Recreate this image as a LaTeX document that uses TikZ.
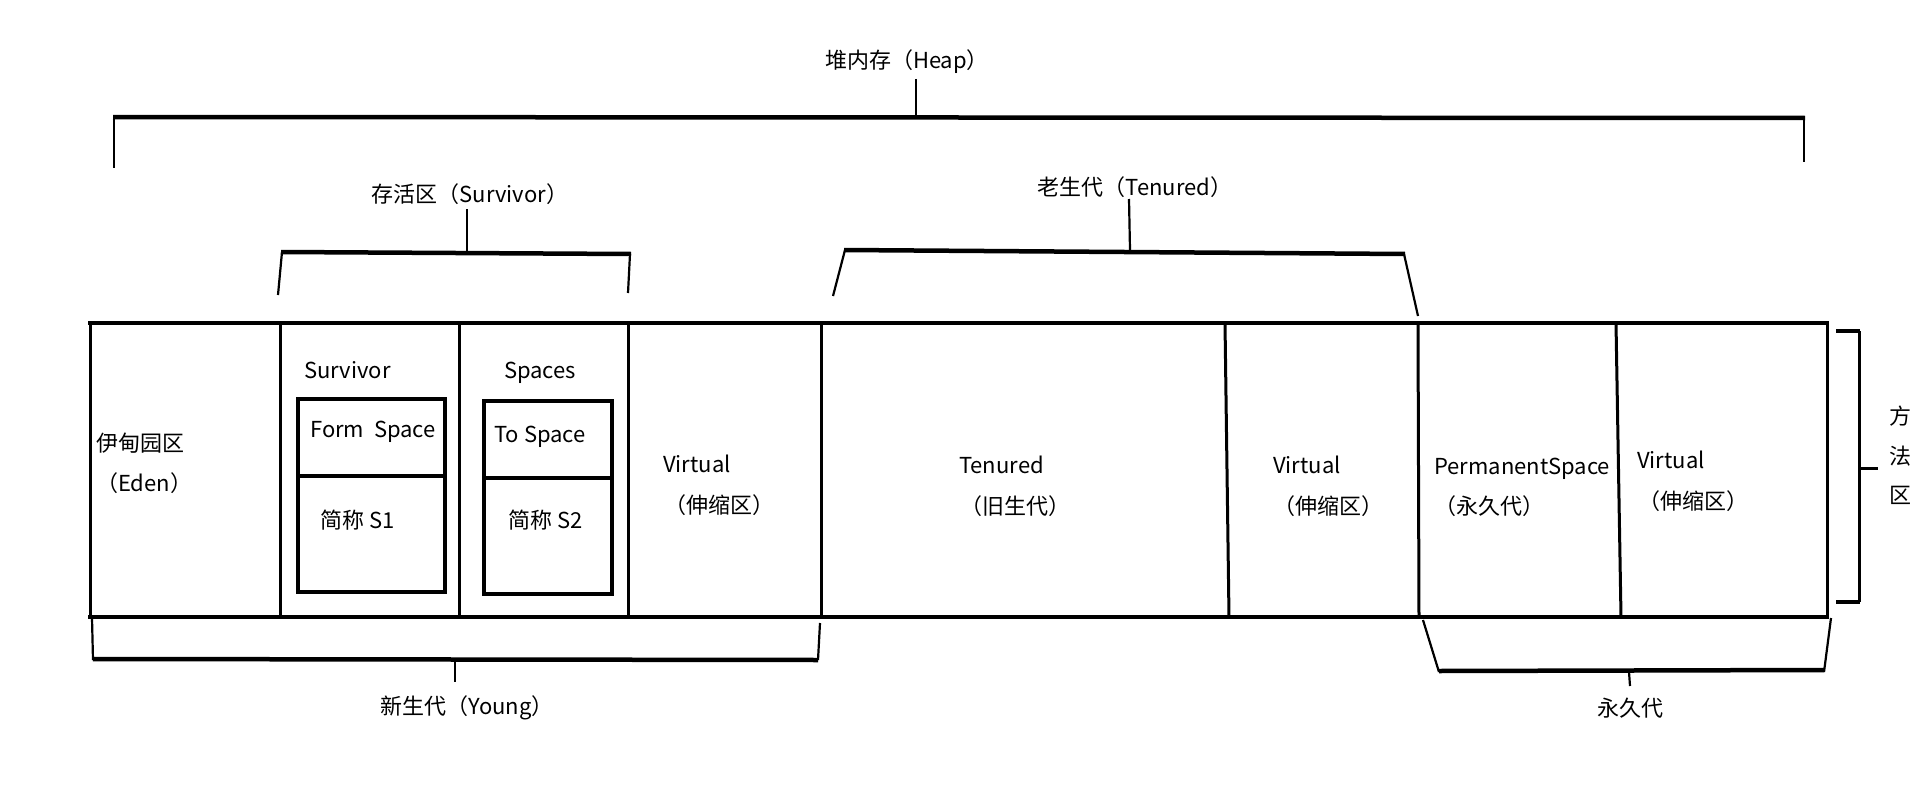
\documentclass[tikz,border=0pt]{standalone}
\usepackage{fontspec}
\setmainfont{Noto Sans CJK SC}
\begin{document}
\begin{tikzpicture}[x=1pt,y=-1pt,
  lbl/.style={inner sep=0pt,anchor=west,text height=0.88em,text depth=0.12em,font=\fontsize{22}{26}\selectfont},
  lblc/.style={lbl,anchor=center},
  thick bar/.style={line width=4.5pt},
  thin leg/.style={line width=2.2pt},
  wall/.style={line width=3pt},
  edge/.style={line width=4.5pt}]
\useasboundingbox[fill=white] (0,0) rectangle (1920,800);
% outer box
\draw[edge] (88,323) -- (1829,323);
\draw[edge] (88,617) -- (1829,617);
\draw[wall] (90,323) -- (90,617);
\draw[wall] (280,323) -- (280,617);
\draw[wall] (459,323) -- (459,617);
\draw[wall] (628,323) -- (628,617);
\draw[wall] (821,323) -- (821,617);
\draw[wall] (1225,323) -- (1229,617);
\draw[wall] (1418,323) -- (1419,617);
\draw[wall] (1616,323) -- (1621,617);
\draw[wall] (1827,323) -- (1827,617);
% inner boxes
\draw[edge] (298,399) rectangle (445,592);
\draw[edge] (298,476) -- (445,476);
\draw[edge] (484,401) rectangle (612,594);
\draw[edge] (484,478) -- (612,478);
% labels in boxes
\node[lbl] (eden1) at (96,448) {伊甸园区};
\node[lbl] (eden2) at (96,488) {（Eden）};
\node[lbl] (surv) at (304,375) {Survivor};
\node[lbl] (spaces) at (504,375) {Spaces};
\node[lbl] (from) at (310,434) {Form\ \ Space};
\node[lbl] (to) at (494,439) {To Space};
\node[lbl] (s1) at (320,525) {简称 S1};
\node[lbl] (s2) at (508,525) {简称 S2};
\node[lbl] (v1) at (663,469) {Virtual};
\node[lbl] (v1b) at (664,510) {（伸缩区）};
\node[lbl] (ten) at (959,470) {Tenured};
\node[lbl] (tenb) at (960,511) {（旧生代）};
\node[lbl] (v2) at (1273,470) {Virtual};
\node[lbl] (v2b) at (1273,511) {（伸缩区）};
\node[lbl] (perm) at (1434,471) {PermanentSpace};
\node[lbl] (permb) at (1434,511) {（永久代）};
\node[lbl] (v3) at (1637,465) {Virtual};
\node[lbl] (v3b) at (1638,506) {（伸缩区）};
% top labels
\node[lblc] (heap) at (907,65) {堆内存（Heap）};
\node[lblc] (survh) at (470,199) {存活区（Survivor）};
\node[lblc] (tenh) at (1135,192) {老生代（Tenured）};
\node[lblc] (young) at (467,711) {新生代（Young）};
\node[lblc] (yjd) at (1630,713) {永久代};
\node[lblc] (ff) at (1900,421) {方};
\node[lblc] (fa) at (1900,461) {法};
\node[lblc] (fq) at (1900,500) {区};
% heap bracket
\draw[thick bar] (113,117) -- (1805,118);
\draw[thin leg] (114,117) -- (114,168);
\draw[thin leg] (1804,118) -- (1804,162);
\draw[thin leg] (916,79) -- (916,117);
% survivor bracket
\draw[thick bar] (281,252) -- (631,254);
\draw[thin leg] (282,252) -- (278,295);
\draw[thin leg] (630,254) -- (628,293);
\draw[thin leg] (467,209) -- (467,252);
% tenured bracket
\draw[thick bar] (844,250) -- (1405,254);
\draw[thin leg] (845,250) -- (833,296);
\draw[thin leg] (1404,254) -- (1418,316);
\draw[thin leg] (1129,199) -- (1130,250);
% young bracket
\draw[thin leg] (92,618) -- (93,660);
\draw[thick bar] (93,659) -- (818,660);
\draw[thin leg] (820,623) -- (818,660);
\draw[thin leg] (455,660) -- (455,682);
% permanent bracket
\draw[thin leg] (1423,620) -- (1439,672);
\draw[thick bar] (1439,671) -- (1824,670);
\draw[thin leg] (1831,618) -- (1824,672);
\draw[thin leg] (1629,672) -- (1630,686);
% method area bracket
\draw[thick bar] (1836,331) -- (1860,331);
\draw[thick bar] (1836,602) -- (1860,602);
\draw[wall] (1859,331) -- (1859,602);
\draw[wall] (1859,468) -- (1878,468);
\end{tikzpicture}
\end{document}
